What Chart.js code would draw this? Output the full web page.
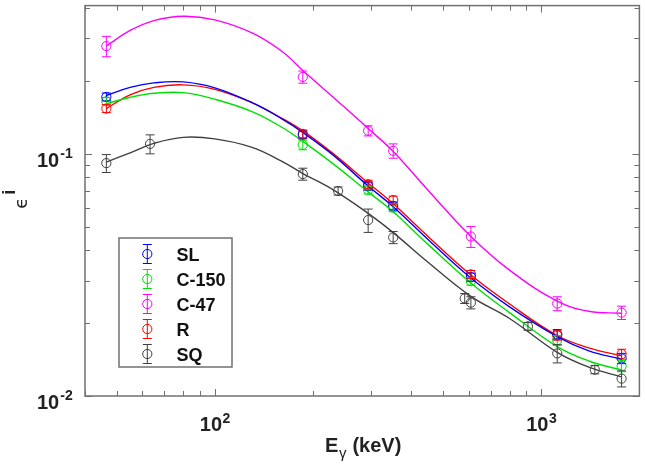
<!DOCTYPE html>
<html>
<head>
<meta charset="utf-8">
<script src="https://cdn.jsdelivr.net/npm/chart.js@4.4.1/dist/chart.umd.min.js"></script>
<style>
html,body{margin:0;padding:0;background:#fff;}
canvas{display:block;}
</style>
</head>
<body>
<canvas id="c" width="645" height="470"></canvas>
<script>
// ---------- data ----------
const seriesNames = ['SL', 'C-150', 'C-47', 'R', 'SQ'];
const seriesColors = ['#0000ff', '#00e000', '#ff00ff', '#ff0000', '#404040'];

// fitted curves
const curveE   = [46.5, 55, 65, 80, 100, 130, 160, 186, 230, 295, 352, 450, 609, 800, 1120, 1400, 1764];
const fitSL    = [0.1744, 0.1884, 0.1966, 0.1984, 0.1875, 0.1628, 0.1400, 0.1227, 0.0991, 0.0737, 0.0605, 0.0443, 0.0307, 0.02335, 0.01760, 0.01536, 0.01420];
const fitC150  = [0.1612, 0.1714, 0.1780, 0.1792, 0.1683, 0.1496, 0.1292, 0.1127, 0.0912, 0.0697, 0.0577, 0.0423, 0.0293, 0.0221, 0.01600, 0.01395, 0.01280];
const fitC47   = [0.2793, 0.3236, 0.3556, 0.3707, 0.3581, 0.3162, 0.2661, 0.2213, 0.1718, 0.1274, 0.1023, 0.0708, 0.0456, 0.0331, 0.02466, 0.02239, 0.02198];
const fitR     = [0.1539, 0.1755, 0.1884, 0.1929, 0.1849, 0.1628, 0.1407, 0.1245, 0.1005, 0.0759, 0.0622, 0.0456, 0.0316, 0.0240, 0.01778, 0.01581, 0.01464];
const fitSQ    = [0.0925, 0.1011, 0.1106, 0.1171, 0.1154, 0.1065, 0.0934, 0.0830, 0.0712, 0.0568, 0.0473, 0.0357, 0.0258, 0.0209, 0.01514, 0.01315, 0.01199];

// measured points
const ptE      = [46.5, 186, 295, 352, 609, 1120, 1764];
const ptSL     = [0.172, 0.120, 0.0737, 0.061, 0.031, 0.0180, 0.0143];
const errSL    = [0.0065, 0.0045, 0.0028, 0.0023, 0.0012, 0.0008, 0.0007];
const ptC150   = [0.165, 0.109, 0.071, 0.060, 0.0298, 0.0170, 0.0133];
const errC150  = [0.006, 0.005, 0.0027, 0.0023, 0.0011, 0.0008, 0.0007];
const ptC47    = [0.279, 0.208, 0.1247, 0.103, 0.0456, 0.0241, 0.0221];
const errC47   = [0.027, 0.012, 0.006, 0.007, 0.0045, 0.0016, 0.0014];
const ptR      = [0.154, 0.121, 0.075, 0.0645, 0.0318, 0.0178, 0.0149];
const errR     = [0.0058, 0.0045, 0.0028, 0.0024, 0.0012, 0.0008, 0.0007];
const ptE_SQ   = [46.5, 63.3, 186, 238.6, 295, 352, 583, 609, 911, 1120, 1460, 1764];
const ptSQ     = [0.0916, 0.110, 0.0826, 0.0703, 0.0533, 0.0452, 0.0253, 0.0243, 0.0194, 0.0150, 0.01285, 0.0118];
const errSQ    = [0.0078, 0.0099, 0.0047, 0.0027, 0.0059, 0.0026, 0.0012, 0.0014, 0.0007, 0.0013, 0.0005, 0.0009];

// axes
const xMin = 40, xMax = 2000, yMin = 0.01, yMax = 0.41;
const xMajorTicks = [100, 1000];
const xMajorExp   = ['2', '3'];
const yMajorTicks = [0.01, 0.1];
const yMajorExp   = ['-2', '-1'];
const xMinorTicks = [40, 50, 60, 70, 80, 90, 200, 300, 400, 500, 600, 700, 800, 900, 2000];
const yMinorTicks = [0.02, 0.03, 0.04, 0.05, 0.06, 0.07, 0.08, 0.09, 0.2, 0.3, 0.4];

// ---------- build datasets ----------
const fits = [fitSL, fitC150, fitC47, fitR, fitSQ];
const pts = [[ptE, ptSL, errSL], [ptE, ptC150, errC150], [ptE, ptC47, errC47], [ptE, ptR, errR], [ptE_SQ, ptSQ, errSQ]];
const datasets = [];
fits.forEach((f, i) => {
  datasets.push({
    type: 'line', label: seriesNames[i] + ' fit',
    data: curveE.map((e, k) => ({x: e, y: f[k]})),
    borderColor: seriesColors[i], borderWidth: 1.4, pointRadius: 0, fill: false,
    tension: 0.4
  });
});
pts.forEach((p, i) => {
  datasets.push({
    type: 'scatter', label: seriesNames[i],
    data: p[0].map((e, k) => ({x: e, y: p[1][k]})),
    errors: p[2],
    borderColor: seriesColors[i], backgroundColor: 'rgba(0,0,0,0)',
    pointRadius: 4.6, pointBorderWidth: 1, pointHoverRadius: 4.6, showLine: false
  });
});

const FONT = '"Liberation Sans", Arial, Helvetica, sans-serif';

const custom = {
  id: 'custom',
  afterDatasetsDraw(chart) {
    const ctx = chart.ctx, xs = chart.scales.x, ys = chart.scales.y;
    ctx.save();
    chart.data.datasets.forEach(ds => {
      if (!ds.errors) return;
      ctx.strokeStyle = ds.borderColor; ctx.lineWidth = 1;
      ds.data.forEach((d, k) => {
        const px = xs.getPixelForValue(d.x);
        const y1 = ys.getPixelForValue(d.y + ds.errors[k]);
        const y2 = ys.getPixelForValue(d.y - ds.errors[k]);
        ctx.beginPath();
        ctx.moveTo(px, y1); ctx.lineTo(px, y2);
        ctx.moveTo(px - 4.5, y1); ctx.lineTo(px + 4.5, y1);
        ctx.moveTo(px - 4.5, y2); ctx.lineTo(px + 4.5, y2);
        ctx.stroke();
      });
    });
    ctx.restore();
  },
  afterDraw(chart) {
    const ctx = chart.ctx, xs = chart.scales.x, ys = chart.scales.y, a = chart.chartArea;
    ctx.save();
    // frame
    ctx.strokeStyle = '#707070'; ctx.lineWidth = 1.5;
    ctx.strokeRect(a.left, a.top, a.right - a.left, a.bottom - a.top);
    ctx.lineWidth = 1;
    const tick = (vals, len) => {
      vals.forEach(v => {
        const px = Math.round(xs.getPixelForValue(v)) + 0.5;
        ctx.beginPath();
        ctx.moveTo(px, a.bottom); ctx.lineTo(px, a.bottom - len);
        ctx.moveTo(px, a.top); ctx.lineTo(px, a.top + len);
        ctx.stroke();
      });
    };
    const ytick = (vals, len) => {
      vals.forEach(v => {
        const py = Math.round(ys.getPixelForValue(v)) + 0.5;
        ctx.beginPath();
        ctx.moveTo(a.left, py); ctx.lineTo(a.left + len, py);
        ctx.moveTo(a.right, py); ctx.lineTo(a.right - len, py);
        ctx.stroke();
      });
    };
    tick(xMajorTicks, 7); tick(xMinorTicks, 5);
    ytick(yMajorTicks, 7); ytick(yMinorTicks, 5);

    // tick labels
    ctx.fillStyle = '#222';
    ctx.textBaseline = 'alphabetic';
    xMajorTicks.forEach((v, i) => {
      const px = xs.getPixelForValue(v);
      ctx.font = 'bold 20px ' + FONT;
      const w1 = ctx.measureText('10').width;
      ctx.font = 'bold 14px ' + FONT;
      const w2 = ctx.measureText(xMajorExp[i]).width;
      const x0 = px - (w1 + w2) / 2;
      ctx.font = 'bold 20px ' + FONT; ctx.textAlign = 'left';
      ctx.fillText('10', x0, a.bottom + 35);
      ctx.font = 'bold 14px ' + FONT;
      ctx.fillText(xMajorExp[i], x0 + w1 + 0.5, a.bottom + 27);
    });
    yMajorTicks.forEach((v, i) => {
      const py = ys.getPixelForValue(v);
      ctx.font = 'bold 20px ' + FONT; ctx.textAlign = 'left';
      ctx.fillText('10', 37, py + 13);
      const w1 = ctx.measureText('10').width;
      ctx.font = 'bold 14px ' + FONT;
      ctx.fillText(yMajorExp[i], 37 + w1 + 1, py + 4);
    });

    // x title: E_gamma (keV)
    ctx.font = 'bold 20px ' + FONT;
    const wE = ctx.measureText('E').width;
    const wRest = ctx.measureText(' (keV)').width;
    ctx.font = '15px ' + FONT;
    const wg = ctx.measureText('\u03b3').width;
    const tw = wE + wg + 1 + wRest;
    let tx = (a.left + a.right) / 2 - tw / 2 + 1;
    ctx.font = 'bold 20px ' + FONT;
    ctx.fillText('E', tx, 452);
    ctx.font = '15px ' + FONT;
    ctx.fillText('\u03b3', tx + wE + 0.5, 458);
    ctx.font = 'bold 20px ' + FONT;
    ctx.fillText(' (keV)', tx + wE + wg + 1, 452);

    // y title: epsilon^i
    ctx.save();
    ctx.translate(27, (a.top + a.bottom) / 2 + 8);
    ctx.rotate(-Math.PI / 2);
    ctx.font = '18px "DejaVu Sans", ' + FONT;
    ctx.fillText('\u03f5', 0, 0);
    const we = ctx.measureText('\u03f5').width;
    ctx.font = 'bold 18px ' + FONT;
    ctx.fillText('i', we + 3, -12);
    ctx.restore();

    // legend
    const lx = 119, ly = 238, lw = 113, lh = 129;
    ctx.fillStyle = '#fff';
    ctx.fillRect(lx, ly, lw, lh);
    ctx.strokeStyle = '#707070'; ctx.lineWidth = 1.5;
    ctx.strokeRect(lx, ly, lw, lh);
    seriesNames.forEach((n, i) => {
      const cy = 254 + i * 25, cx = 147.3;
      ctx.strokeStyle = seriesColors[i]; ctx.lineWidth = 1;
      ctx.beginPath();
      ctx.moveTo(cx, cy - 9.5); ctx.lineTo(cx, cy + 9.5);
      ctx.moveTo(cx - 4.5, cy - 9.5); ctx.lineTo(cx + 4.5, cy - 9.5);
      ctx.moveTo(cx - 4.5, cy + 9.5); ctx.lineTo(cx + 4.5, cy + 9.5);
      ctx.stroke();
      ctx.beginPath(); ctx.arc(cx, cy, 4.6, 0, Math.PI * 2); ctx.stroke();
      ctx.fillStyle = '#111';
      ctx.font = 'bold 18px ' + FONT; ctx.textAlign = 'left';
      ctx.fillText(n, 176.5, cy + 6.5);
    });
    ctx.restore();
  }
};

new Chart(document.getElementById('c'), {
  data: { datasets },
  options: {
    responsive: false, animation: false,
    layout: { padding: { top: 2, right: 3, left: 0, bottom: 0 } },
    plugins: { legend: { display: false }, tooltip: { enabled: false } },
    scales: {
      x: {
        type: 'logarithmic', min: xMin, max: xMax,
        ticks: { display: false }, grid: { display: false }, border: { display: false },
        afterFit(s) { s.height = 74; }
      },
      y: {
        type: 'logarithmic', min: yMin, max: yMax,
        ticks: { display: false }, grid: { display: false }, border: { display: false },
        afterFit(s) { s.width = 85; }
      }
    }
  },
  plugins: [custom]
});
</script>
</body>
</html>
